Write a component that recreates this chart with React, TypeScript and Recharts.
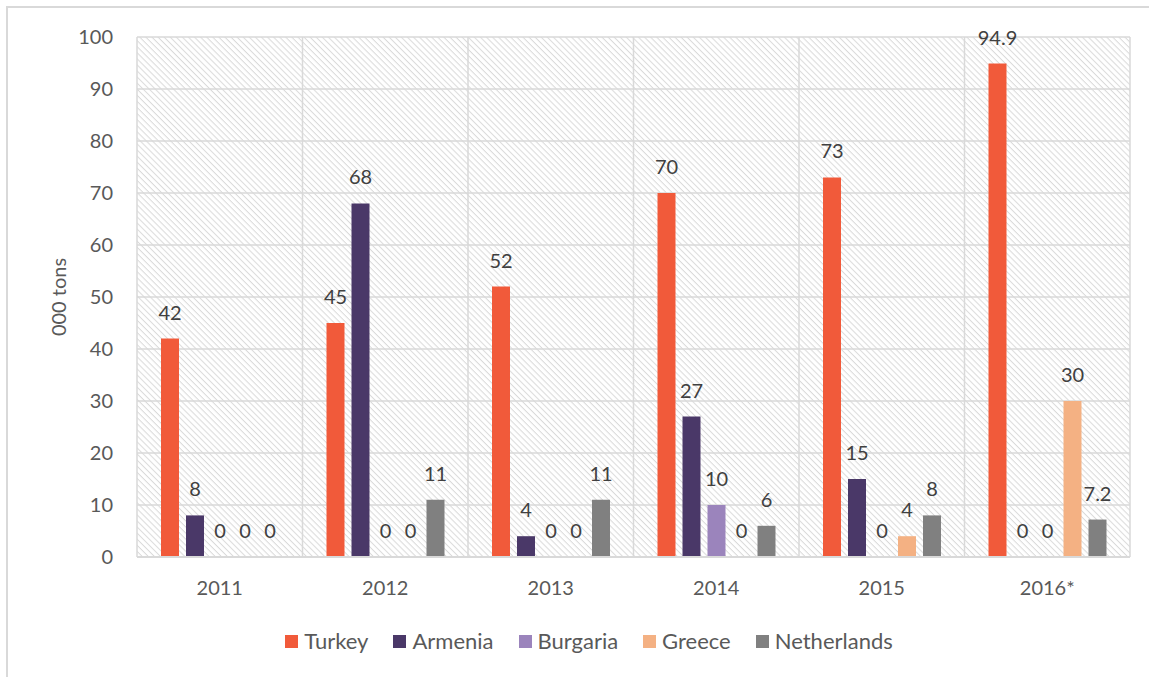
import React from "react";
import {
  BarChart,
  Bar,
  XAxis,
  YAxis,
  CartesianGrid,
  LabelList,
  Label,
} from "recharts";

const years = ["2011", "2012", "2013", "2014", "2015", "2016*"];
const turkey = [42, 45, 52, 70, 73, 94.9];
const armenia = [8, 68, 4, 27, 15, 0];
const burgaria = [0, 0, 0, 10, 0, 0];
const greece = [0, 0, 0, 0, 4, 30];
const netherlands = [0, 11, 11, 6, 8, 7.2];
const yTicks = [0, 10, 20, 30, 40, 50, 60, 70, 80, 90, 100];

const series = [
  { key: "turkey", name: "Turkey", color: "#f15a3a", values: turkey },
  { key: "armenia", name: "Armenia", color: "#4a3868", values: armenia },
  { key: "burgaria", name: "Burgaria", color: "#9b84bc", values: burgaria },
  { key: "greece", name: "Greece", color: "#f4b183", values: greece },
  { key: "netherlands", name: "Netherlands", color: "#808080", values: netherlands },
];

const data = years.map((year, i) => {
  const row: Record<string, string | number> = { year };
  series.forEach((s) => {
    row[s.key] = s.values[i];
  });
  return row;
});

const FONT = "Lato, 'Open Sans', sans-serif";
const GRID = "#d9d9d9";

export default function App() {
  return (
    <div style={{ position: "absolute", left: 0, top: 0, width: 1149, height: 677, background: "#fff", overflow: "hidden", fontFamily: FONT }}>
      {/* outer chart frame */}
      <div style={{ position: "absolute", left: 6, top: 6, width: 1200, height: 700, borderLeft: `2px solid ${GRID}`, borderTop: `2px solid ${GRID}` }} />
      <div style={{ position: "absolute", left: 0, top: 0 }}>
        <BarChart
          width={1149}
          height={677}
          data={data}
          margin={{ top: 37, right: 19, left: 37, bottom: 80 }}
          barSize={18}
          barGap={7}
        >
          <defs>
            <pattern id="hatch" width="4.3" height="4.3" patternUnits="userSpaceOnUse" patternTransform="rotate(45)">
              <rect x="0" y="0" width="4.3" height="4.3" fill="#ffffff" />
              <rect x="0" y="0" width="4.3" height="1" fill="#dadada" />
            </pattern>
          </defs>
          <CartesianGrid
            fill="url(#hatch)"
            fillOpacity={1}
            stroke={GRID}
            strokeWidth={1.5}
            verticalCoordinatesGenerator={({ offset }: any) =>
              years.map((_, i) => offset.left + (i * offset.width) / years.length).concat(offset.left + offset.width)
            }
          />
          <XAxis
            dataKey="year"
            height={40}
            tickSize={0}
            tickMargin={24}
            axisLine={{ stroke: GRID, strokeWidth: 2 }}
            tick={{ fill: "#595959", fontSize: 20, fontFamily: FONT }}
          />
          <YAxis
            width={100}
            domain={[0, 100]}
            ticks={yTicks}
            tickSize={0}
            tickMargin={24}
            axisLine={false}
            tick={{ fill: "#595959", fontSize: 20, fontFamily: FONT }}
          >
            <Label
              content={({ viewBox }: any) => {
                const x = viewBox.x + 21;
                const y = viewBox.y + viewBox.height / 2;
                return (
                  <text
                    x={x}
                    y={y}
                    transform={`rotate(-90 ${x} ${y})`}
                    textAnchor="middle"
                    dominantBaseline="central"
                    fill="#595959"
                    fontSize={20}
                    fontFamily={FONT}
                  >
                    000 tons
                  </text>
                );
              }}
            />
          </YAxis>
          {series.map((s) => (
            <Bar key={s.key} dataKey={s.key} name={s.name} fill={s.color} minPointSize={0.01} isAnimationActive={false}>
              <LabelList dataKey={s.key} position="top" offset={19} fill="#404040" fontSize={20} fontFamily={FONT} />
            </Bar>
          ))}
        </BarChart>
      </div>
      {/* legend */}
      <div
        style={{
          position: "absolute",
          left: 7,
          width: 1164,
          top: 627,
          display: "flex",
          justifyContent: "center",
          gap: 25,
          fontSize: 22,
          color: "#595959",
          lineHeight: "28px",
        }}
      >
        {series.map((s) => (
          <div key={s.key} style={{ display: "flex", alignItems: "center", gap: 6 }}>
            <span style={{ display: "inline-block", width: 13, height: 13, background: s.color }} />
            <span>{s.name}</span>
          </div>
        ))}
      </div>
    </div>
  );
}
